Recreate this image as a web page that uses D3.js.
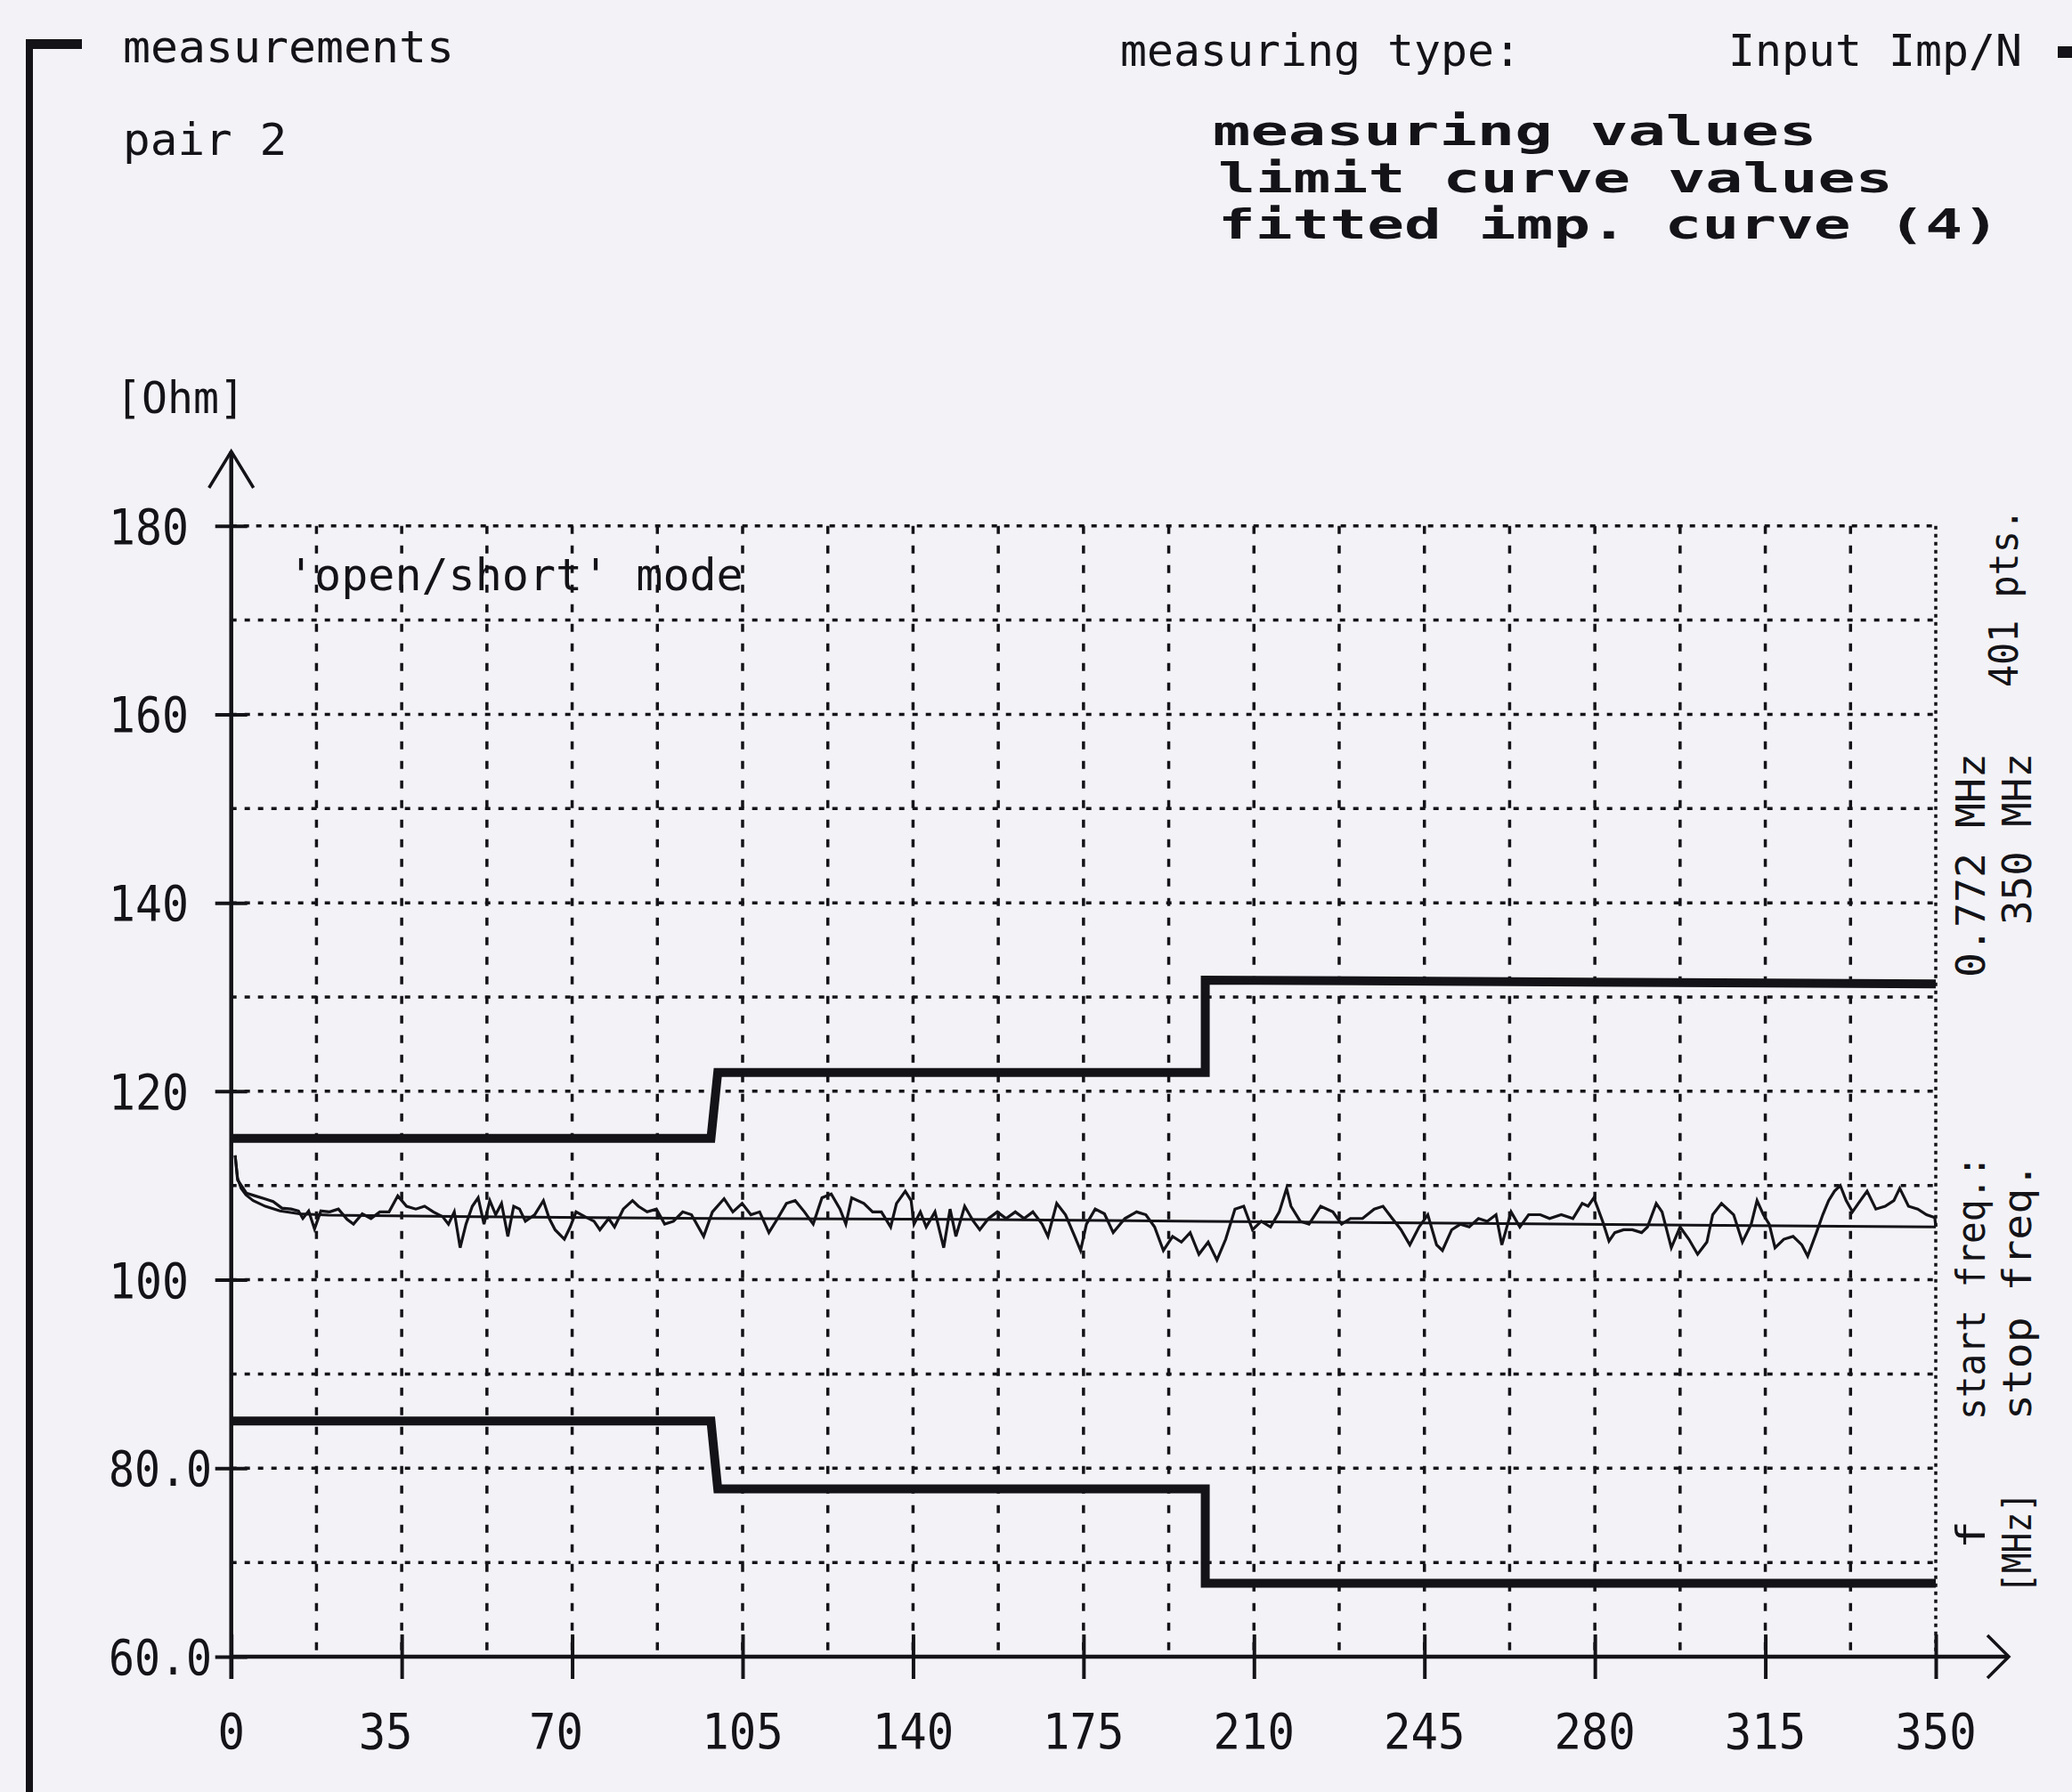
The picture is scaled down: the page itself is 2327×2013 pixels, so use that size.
<!DOCTYPE html>
<html><head><meta charset="utf-8">
<script src="https://cdn.jsdelivr.net/npm/d3@7/dist/d3.min.js"></script>
<style>html,body{margin:0;padding:0;background:#f3f3f7;overflow:hidden}svg{display:block}</style>
</head><body>
<svg id="chart" width="2327" height="2013"></svg>
<script>
// ---------- data ----------
const xTickValues = [0, 35, 70, 105, 140, 175, 210, 245, 280, 315, 350];
const xTickLabels = ["0", "35", "70", "105", "140", "175", "210", "245", "280", "315", "350"];
const yTickValues = [60, 80, 100, 120, 140, 160, 180];
const yTickLabels = ["60.0", "80.0", "100", "120", "140", "160", "180"];
const xGridValues = [17.5, 35, 52.5, 70, 87.5, 105, 122.5, 140, 157.5, 175, 192.5, 210, 227.5, 245, 262.5, 280, 297.5, 315, 332.5];
const yGridValues = [70, 80, 90, 100, 110, 120, 130, 140, 150, 160, 170];

const upperLimit = [[0, 115], [98.5, 115], [99.9, 122], [200, 122], [200, 131.8], [350, 131.4]];
const lowerLimit = [[0, 85], [98.5, 85], [99.9, 77.8], [200, 77.8], [200, 67.8], [350, 67.8]];

const fittedCurve = [[0.8, 113.2], [1.3, 110.8], [2, 109.7], [3, 109.0], [4.5, 108.4], [7, 107.8], [10, 107.3], [14, 107.0], [20, 106.85], [50, 106.7], [100, 106.5], [150, 106.4], [200, 106.2], [250, 106.0], [300, 105.8], [350, 105.6]];

const measuredValues = [
 [0.8,113.2],[1.3,110.6],[3.1,109.2],[4.9,108.9],[6.8,108.6],[8.6,108.3],[10.4,107.6],[12.3,107.5],[13.8,107.3],[14.7,106.5],
 [15.9,107.3],[17.1,105.4],[18.4,107.3],[20.2,107.2],[22.0,107.5],[23.8,106.4],[25.1,105.9],[26.9,107.0],[28.7,106.5],[30.5,107.2],
 [32.4,107.2],[34.2,108.9],[36.0,107.8],[37.9,107.5],[39.7,107.8],[41.5,107.2],[43.4,106.7],[44.6,105.9],[45.8,107.2],[47.0,103.4],
 [48.2,105.9],[49.5,107.8],[50.7,108.7],[51.9,105.9],[53.1,108.4],[54.3,106.9],[55.5,108.1],[56.8,104.6],[58.0,107.8],[59.2,107.5],
 [60.4,106.2],[62.3,106.9],[64.1,108.4],[65.3,106.5],[66.5,105.3],[68.4,104.3],[69.6,105.6],[70.8,107.2],[72.6,106.7],[74.5,106.2],
 [75.7,105.3],[77.5,106.5],[78.7,105.6],[80.5,107.5],[82.4,108.4],[83.6,107.8],[85.4,107.2],[87.3,107.5],[89.0,105.9],[90.8,106.2],
 [92.7,107.2],[94.5,106.9],[97.0,104.6],[98.8,107.2],[101.2,108.6],[103.0,107.2],[104.9,108.1],[106.7,106.9],[108.5,107.2],[110.4,105.0],
 [112.2,106.5],[114.0,108.1],[115.8,108.4],[117.7,107.2],[119.5,105.9],[121.3,108.7],[123.2,109.1],[125.0,107.5],[126.2,105.9],[127.4,108.7],
 [129.9,108.1],[131.7,107.2],[133.5,107.2],[135.4,105.6],[136.6,108.1],[138.4,109.4],[139.6,108.4],[140.2,105.9],[141.5,107.2],[142.7,105.6],
 [144.5,107.2],[146.3,103.4],[147.6,107.5],[148.8,104.6],[150.6,107.8],[152.4,106.2],[153.7,105.3],[155.5,106.5],[157.3,107.2],[159.1,106.5],
 [161.0,107.2],[162.8,106.5],[164.6,107.2],[166.5,105.9],[167.7,104.6],[169.5,108.1],[171.3,106.9],[173.2,104.6],[174.4,103.1],[175.6,105.9],
 [177.4,107.5],[179.3,107.0],[181.1,105.0],[183.5,106.5],[185.9,107.2],[187.8,106.9],[189.6,105.6],[191.4,103.1],[193.3,104.6],[195.1,104.0],
 [196.9,105.0],[198.7,102.7],[200.6,104.0],[202.4,102.1],[204.2,104.3],[206.1,107.5],[207.9,107.8],[209.7,105.3],[211.5,106.2],[213.4,105.6],
 [215.2,107.2],[216.7,109.7],[217.6,107.8],[219.5,106.2],[221.3,105.9],[223.7,107.8],[226.2,107.2],[228.0,105.9],[229.8,106.5],[232.3,106.5],
 [234.7,107.5],[236.5,107.8],[238.4,106.5],[240.2,105.3],[242.0,103.7],[243.9,105.6],[245.7,106.9],[247.5,103.7],[248.7,103.1],[250.6,105.3],
 [252.4,105.9],[254.2,105.6],[256.1,106.5],[257.9,106.2],[259.7,106.9],[260.9,103.7],[262.8,107.2],[264.6,105.6],[266.4,106.9],[268.8,106.9],
 [270.7,106.5],[273.1,106.9],[275.5,106.5],[277.4,108.1],[278.6,107.8],[279.8,108.7],[281.6,106.2],[282.9,104.1],[284.1,105.0],[285.9,105.3],
 [287.7,105.3],[289.6,105.0],[290.8,105.6],[292.6,108.1],[293.8,107.2],[295.7,103.4],[297.5,105.6],[299.3,104.3],[301.1,102.7],[303.0,104.0],
 [304.2,106.9],[306.0,108.1],[308.5,106.9],[310.3,104.0],[312.1,105.9],[313.3,108.4],[314.6,106.9],[315.8,105.9],[317.0,103.4],[318.8,104.3],
 [320.7,104.6],[322.5,103.7],[323.7,102.5],[325.5,105.0],[326.8,106.9],[328.0,108.4],[329.2,109.4],[330.4,110.0],[331.6,108.4],[332.9,107.2],
 [334.1,108.1],[335.9,109.4],[337.7,107.5],[339.6,107.8],[341.4,108.4],[342.6,109.7],[344.4,107.8],[346.3,107.5],[348.1,106.9],[349.8,106.6],[350,105.6]
];

// ---------- layout ----------
const FONT = "'DejaVu Sans Mono', 'Liberation Mono', monospace";
const INK = "#141418";
const svg = d3.select("#chart");
svg.append("rect").attr("width", 2327).attr("height", 2013).attr("fill", "#f3f3f7");

const x = d3.scaleLinear().domain([0, 350]).range([259.7, 2174]);
const y = d3.scaleLinear().domain([60, 180]).range([1861, 590.7]);

function txt(str, px, py, size, perChar, opts = {}) {
  const t = svg.append("text")
    .attr("x", px).attr("y", py)
    .attr("font-family", FONT)
    .attr("font-size", size)
    .attr("font-weight", opts.bold ? "bold" : "normal")
    .attr("fill", INK)
    .attr("text-anchor", opts.anchor || "start")
    .text(str);
  if (perChar) t.attr("textLength", perChar * str.length).attr("lengthAdjust", "spacingAndGlyphs");
  if (opts.transform) t.attr("transform", opts.transform);
  return t;
}

// frame bracket at the left
svg.append("rect").attr("x", 29).attr("y", 44).attr("width", 63).attr("height", 11).attr("fill", INK);
svg.append("rect").attr("x", 29).attr("y", 44).attr("width", 8).attr("height", 1969).attr("fill", INK);

// header texts
txt("measurements", 138, 70, 50, 31);
txt("pair 2", 138, 174, 50, 30.7);
txt("measuring type:", 1258, 74, 50, 30);
txt("Input Imp/N", 1941, 74, 50, 30);
svg.append("rect").attr("x", 2311).attr("y", 52).attr("width", 16).attr("height", 13).attr("fill", INK);

txt("measuring values", 1362, 163, 46, 42.4, {bold: true});
txt("limit curve values", 1368, 216, 46, 42.1, {bold: true});
txt("fitted imp. curve (4)", 1368, 268, 46, 41.8, {bold: true});

txt("[Ohm]", 130, 464, 50, 29);
txt("'open/short' mode", 323, 663, 50, 30.1);

// grid
const g = svg.append("g");
g.selectAll("line.hg").data(yGridValues).join("line")
  .attr("x1", x(0)).attr("x2", x(350))
  .attr("y1", d => y(d)).attr("y2", d => y(d))
  .attr("stroke", INK).attr("stroke-width", 3.5).attr("stroke-dasharray", "6 9");
g.selectAll("line.vg").data(xGridValues).join("line")
  .attr("x1", d => x(d)).attr("x2", d => x(d))
  .attr("y1", y(180)).attr("y2", y(60))
  .attr("stroke", INK).attr("stroke-width", 3.5).attr("stroke-dasharray", "9 13");
g.append("line").attr("x1", x(0)).attr("x2", x(350)).attr("y1", y(180)).attr("y2", y(180))
  .attr("stroke", INK).attr("stroke-width", 3.5).attr("stroke-dasharray", "6 8");
g.append("line").attr("x1", x(350)).attr("x2", x(350)).attr("y1", y(180)).attr("y2", y(60))
  .attr("stroke", INK).attr("stroke-width", 3.5).attr("stroke-dasharray", "4 5");

// axes with d3 axis generators
const xAxis = d3.axisBottom(x).tickValues(xTickValues).tickSize(0).tickFormat("");
const yAxis = d3.axisLeft(y).tickValues(yTickValues).tickSize(0).tickFormat("");
const xa = svg.append("g").attr("transform", `translate(0,${y(60)})`).call(xAxis);
xa.select(".domain").remove();
xa.selectAll(".tick line").attr("y1", -25).attr("y2", 25).attr("stroke", INK).attr("stroke-width", 4);
const ya = svg.append("g").attr("transform", `translate(${x(0)},0)`).call(yAxis);
ya.select(".domain").remove();
ya.selectAll(".tick line").attr("x1", -18).attr("x2", 18).attr("stroke", INK).attr("stroke-width", 4);

// axis lines with arrows
svg.append("line").attr("x1", x(0)).attr("x2", 2256).attr("y1", y(60)).attr("y2", y(60)).attr("stroke", INK).attr("stroke-width", 4.5);
svg.append("path").attr("d", `M2232,${y(60) - 24} L2256,${y(60)} L2232,${y(60) + 24}`).attr("fill", "none").attr("stroke", INK).attr("stroke-width", 3.5);
svg.append("line").attr("x1", x(0)).attr("x2", x(0)).attr("y1", y(60) + 25).attr("y2", 507).attr("stroke", INK).attr("stroke-width", 4.5);
svg.append("path").attr("d", `M${x(0) - 25},548 L${x(0)},507 L${x(0) + 25},548`).attr("fill", "none").attr("stroke", INK).attr("stroke-width", 3.5);

// tick labels (two-digit labels sit a little left of their tick, as in the original)
xTickValues.forEach((v, i) => {
  const lab = xTickLabels[i];
  const shift = lab.length === 2 ? -18 : 0;
  txt(lab, x(v) + shift, 1964, 56, 30.5, {anchor: "middle"});
});
yTickValues.forEach((v, i) => txt(yTickLabels[i], 122, y(v) + 20, 56, yTickLabels[i].length === 4 ? 29 : 30));

// lines
const line = d3.line().x(d => x(d[0])).y(d => y(d[1]));
svg.append("path").datum(fittedCurve).attr("d", line).attr("fill", "none").attr("stroke", INK).attr("stroke-width", 3);
svg.append("path").datum(measuredValues).attr("d", line).attr("fill", "none").attr("stroke", INK).attr("stroke-width", 3.2).attr("stroke-linejoin", "miter");
[upperLimit, lowerLimit].forEach(L => {
  svg.append("path").datum(L).attr("d", line).attr("fill", "none").attr("stroke", INK).attr("stroke-width", 10).attr("stroke-linejoin", "miter");
});

// rotated info texts at the right
const rotTexts = [
  ["401 pts.", 2266, 772, 571],
  ["0.772 MHz", 2229, 1098, 846],
  ["350 MHz", 2281, 1039, 846],
  ["start freq.:", 2229, 1595, 1298],
  ["stop freq.", 2281, 1595, 1306],
  ["f", 2229, 1740, 1708],
  ["[MHz]", 2281, 1790, 1676]
];
rotTexts.forEach(([s, bx, y0, y1]) => {
  svg.append("text").attr("transform", `translate(${bx},${y0}) rotate(-90)`)
    .attr("font-family", FONT).attr("font-size", 44).attr("fill", INK)
    .attr("textLength", y0 - y1).attr("lengthAdjust", "spacingAndGlyphs").text(s);
});
</script>
</body></html>
